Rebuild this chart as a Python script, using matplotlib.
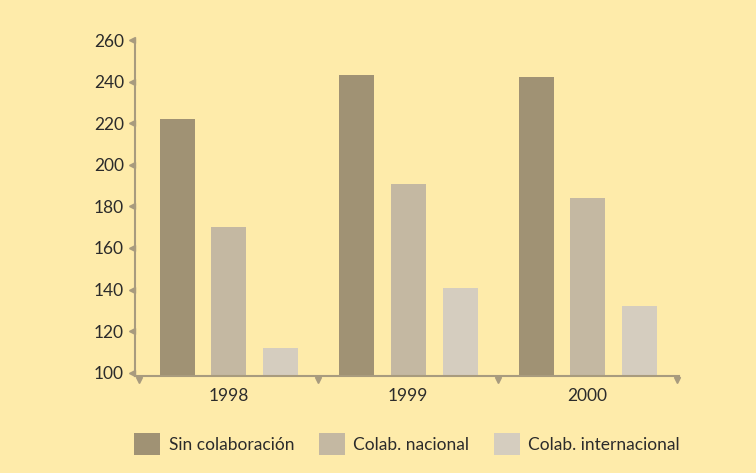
import matplotlib
matplotlib.use("Agg")
import matplotlib.pyplot as plt
import matplotlib.transforms as mtransforms
from matplotlib.patches import Patch
import numpy as np

years = ["1998", "1999", "2000"]
series_names = ["Sin colaboración", "Colab. nacional", "Colab. internacional"]
sin_colab = [222, 243, 242]
colab_nacional = [170, 191, 184]
colab_internacional = [112, 141, 132]
yticks = [100, 120, 140, 160, 180, 200, 220, 240, 260]

bg = "#feebaa"
colors = ["#a09274", "#c4b8a2", "#d5cdbf"]
axis_col = "#a89b7e"
text_col = "#2b2b2b"

plt.rcParams['font.family'] = ['Lato', 'DejaVu Sans']

fig = plt.figure(figsize=(7.56, 4.73), dpi=100, facecolor=bg)
ax = fig.add_axes([135/756, 1-375.7/473, (679-135)/756, (375.7-40)/473])
ax.set_facecolor(bg)

x = np.arange(len(years)) + 0.5
offsets = [-0.285, 0.0, 0.29]
width = 0.195
for vals, off, c, name in zip([sin_colab, colab_nacional, colab_internacional], offsets, colors, series_names):
    ax.bar(x + off, np.array(vals) - 98.6, bottom=98.6, width=width, color=c, label=name)

ax.set_xlim(-0.022, 3.01)
ax.set_ylim(98.6, 260)

for s in ["top", "right"]:
    ax.spines[s].set_visible(False)
for s in ["left", "bottom"]:
    ax.spines[s].set_color(axis_col)
    ax.spines[s].set_linewidth(1.5)

ax.set_yticks(yticks)
ax.set_yticklabels([str(v) for v in yticks], color=text_col, fontsize=12.5)
ax.set_xticks(x)
ax.set_xticklabels(years, color=text_col, fontsize=12.5)
ax.tick_params(axis='y', length=0, pad=8)
ax.tick_params(axis='x', length=0, pad=9)

# triangle ticks on y axis
off_y = mtransforms.offset_copy(ax.get_yaxis_transform(), fig=fig, x=-2.5, y=0, units='points')
ax.plot([0]*len(yticks), yticks, linestyle='none', marker='<', markersize=5,
        color=axis_col, transform=off_y, clip_on=False)
# triangle ticks on x axis at group boundaries
off_x = mtransforms.offset_copy(ax.get_xaxis_transform(), fig=fig, x=0, y=-3, units='points')
bounds = [0, 1, 2, 3]
ax.plot(bounds, [0]*len(bounds), linestyle='none', marker='v', markersize=5,
        color=axis_col, transform=off_x, clip_on=False)

handles = [Patch(facecolor=c, edgecolor='none') for c in colors]
fig.legend(handles, series_names, loc='center', bbox_to_anchor=(407/756, 1-444/473),
           ncol=3, frameon=False, fontsize=12.5, handlelength=1.5, handleheight=1.5,
           handletextpad=0.5, columnspacing=1.4, labelcolor=text_col)

fig.savefig("out.png", dpi=100, facecolor=bg)
